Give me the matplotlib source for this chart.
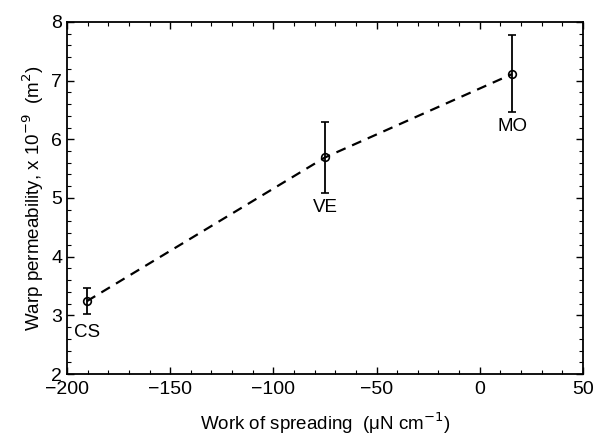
import matplotlib.pyplot as plt
from matplotlib.ticker import MultipleLocator

plt.rcParams['font.family'] = ['Liberation Sans', 'DejaVu Sans']

# Dati
fibre = ['CS', 'VE', 'MO']
lavoro = [-190.5, -75, 15.7]
permeabilita = [3.24, 5.69, 7.11]
err_su = [0.22, 0.60, 0.67]
err_giu = [0.21, 0.60, 0.64]
etichetta_y = [2.70, 4.83, 6.21]

fig = plt.figure(figsize=(5.99, 4.37), dpi=100)
ax = fig.add_axes([0.112, 0.144, 0.861, 0.806])

ax.plot(lavoro, permeabilita, color='black', lw=1.6, linestyle=(0, (4.5, 3.2)))
ax.errorbar(lavoro, permeabilita, yerr=[err_giu, err_su], fmt='o', mfc='none',
            mec='black', color='black', ms=5.5, mew=1.2, elinewidth=1.3,
            capsize=3, capthick=1.3)

for nome, x, y in zip(fibre, lavoro, etichetta_y):
    ax.text(x, y, nome, ha='center', va='center', fontsize=13.5)

ax.set_xlim(-200, 50)
ax.set_ylim(2, 8)
ax.xaxis.set_major_locator(MultipleLocator(50))
ax.xaxis.set_minor_locator(MultipleLocator(10))
ax.yaxis.set_major_locator(MultipleLocator(1))
ax.yaxis.set_minor_locator(MultipleLocator(0.2))
ax.tick_params(which='both', direction='in', top=True, right=True, labelsize=14)
ax.tick_params(which='major', length=5, width=1)
ax.tick_params(which='minor', length=3, width=0.8)
ax.tick_params(axis='x', pad=5)
for s in ax.spines.values():
    s.set_linewidth(1.3)

ax.set_xlabel(r'Work of spreading  ($\mathregular{\mu}$N cm$^{-1}$)', fontsize=13.5, labelpad=9)
ax.set_ylabel(r'Warp permeability, x 10$^{-9}$  (m$^{2}$)', fontsize=13.5, labelpad=4)

plt.savefig('out.png', dpi=100)
